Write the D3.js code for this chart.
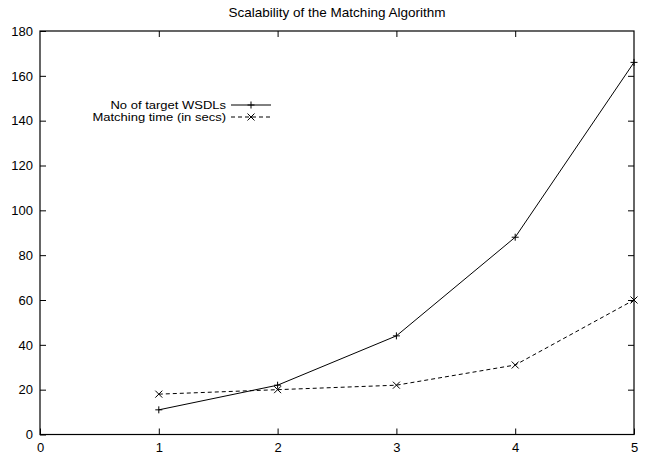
<!DOCTYPE html>
<html>
<head>
<meta charset="utf-8">
<script src="https://cdn.jsdelivr.net/npm/d3@7"></script>
<style>
  body { margin: 0; background: #fff; }
  text { font-family: "Liberation Sans", Arial, sans-serif; fill: #000; }
</style>
</head>
<body>
<svg id="chart" width="645" height="458"></svg>
<script>
var xValues = [1, 2, 3, 4, 5];
var targetWsdls = [11, 22, 44, 88, 166];
var matchingTime = [18, 20, 22, 31, 60];
var xTicks = [0, 1, 2, 3, 4, 5];
var yTicks = [0, 20, 40, 60, 80, 100, 120, 140, 160, 180];
var seriesNames = ["No of target WSDLs", "Matching time (in secs)"];

var svg = d3.select("#chart"),
  margin = {top: 31, right: 11, bottom: 23.5, left: 40},
  width = +svg.attr("width") - margin.left - margin.right,
  height = +svg.attr("height") - margin.top - margin.bottom,
  main = svg.append("g").attr("transform", "translate(" + margin.left + "," + margin.top + ")");

var x = d3.scaleLinear().domain([0, 5]).range([0, width]);
var y = d3.scaleLinear().domain([0, 180]).range([height, 0]);

// title
svg.append("text")
  .attr("x", margin.left + width / 2)
  .attr("y", 17)
  .attr("text-anchor", "middle")
  .style("font-size", "13.5px")
  .text("Scalability of the Matching Algorithm");

// axes with gnuplot-style inward ticks on all sides
var tickLen = 6;
main.append("g").call(d3.axisLeft(y).tickValues(yTicks).tickSizeInner(-tickLen).tickSizeOuter(0).tickPadding(7))
  .call(function(g) { g.select(".domain").remove(); g.selectAll("text").style("font-size", "13px").attr("font-family", null); });
main.append("g").attr("transform", "translate(" + width + ",0)")
  .call(d3.axisRight(y).tickValues(yTicks.slice(1, -1)).tickSizeInner(-tickLen).tickSizeOuter(0).tickFormat(""))
  .call(function(g) { g.select(".domain").remove(); });
main.append("g").attr("transform", "translate(0," + height + ")")
  .call(d3.axisBottom(x).tickValues(xTicks).tickFormat(d3.format("d")).tickSizeInner(-tickLen).tickSizeOuter(0).tickPadding(8.5))
  .call(function(g) { g.select(".domain").remove(); g.selectAll("text").style("font-size", "13px").attr("font-family", null); });
main.append("g")
  .call(d3.axisTop(x).tickValues(xTicks.slice(1, -1)).tickSizeInner(-tickLen).tickSizeOuter(0).tickFormat(""))
  .call(function(g) { g.select(".domain").remove(); });
main.selectAll(".tick line").attr("stroke", "#000");

main.append("rect")
  .attr("x", 0).attr("y", 0).attr("width", width).attr("height", height)
  .attr("fill", "none").attr("stroke", "#000").attr("stroke-width", 1.2);

var line = d3.line()
  .x(function(d) { return x(d[0]); })
  .y(function(d) { return y(d[1]); });

var s1 = xValues.map(function(v, i) { return [v, targetWsdls[i]]; });
var s2 = xValues.map(function(v, i) { return [v, matchingTime[i]]; });

main.append("path").datum(s1)
  .attr("fill", "none").attr("stroke", "#000").attr("stroke-width", 1)
  .attr("d", line);
main.append("path").datum(s2)
  .attr("fill", "none").attr("stroke", "#000").attr("stroke-width", 1)
  .attr("stroke-dasharray", "4,3")
  .attr("d", line);

var m = 3.5;
function plus(g, px, py) {
  g.append("path").attr("d", "M" + (px - m) + "," + py + "H" + (px + m) + "M" + px + "," + (py - m) + "V" + (py + m))
    .attr("stroke", "#000").attr("fill", "none");
}
function cross(g, px, py) {
  g.append("path").attr("d", "M" + (px - m) + "," + (py - m) + "L" + (px + m) + "," + (py + m) + "M" + (px - m) + "," + (py + m) + "L" + (px + m) + "," + (py - m))
    .attr("stroke", "#000").attr("fill", "none");
}
s1.forEach(function(d) { plus(main, x(d[0]), y(d[1])); });
s2.forEach(function(d) { cross(main, x(d[0]), y(d[1])); });

// legend (text is a bit wider than Liberation Sans, so stretch it)
var legend = svg.append("g");
var legY = [105, 117];
seriesNames.forEach(function(name, i) {
  legend.append("g")
    .attr("transform", "translate(226," + legY[i] + ") scale(1.13,1)")
    .append("text")
    .attr("dy", "0.35em")
    .attr("text-anchor", "end")
    .style("font-size", "11.5px")
    .text(name);
  var l = legend.append("line")
    .attr("x1", 231).attr("x2", 271)
    .attr("y1", legY[i]).attr("y2", legY[i])
    .attr("stroke", "#000");
  if (i === 1) l.attr("stroke-dasharray", "4,3");
  if (i === 0) plus(legend, 251, legY[i]); else cross(legend, 251, legY[i]);
});
</script>
</body>
</html>
